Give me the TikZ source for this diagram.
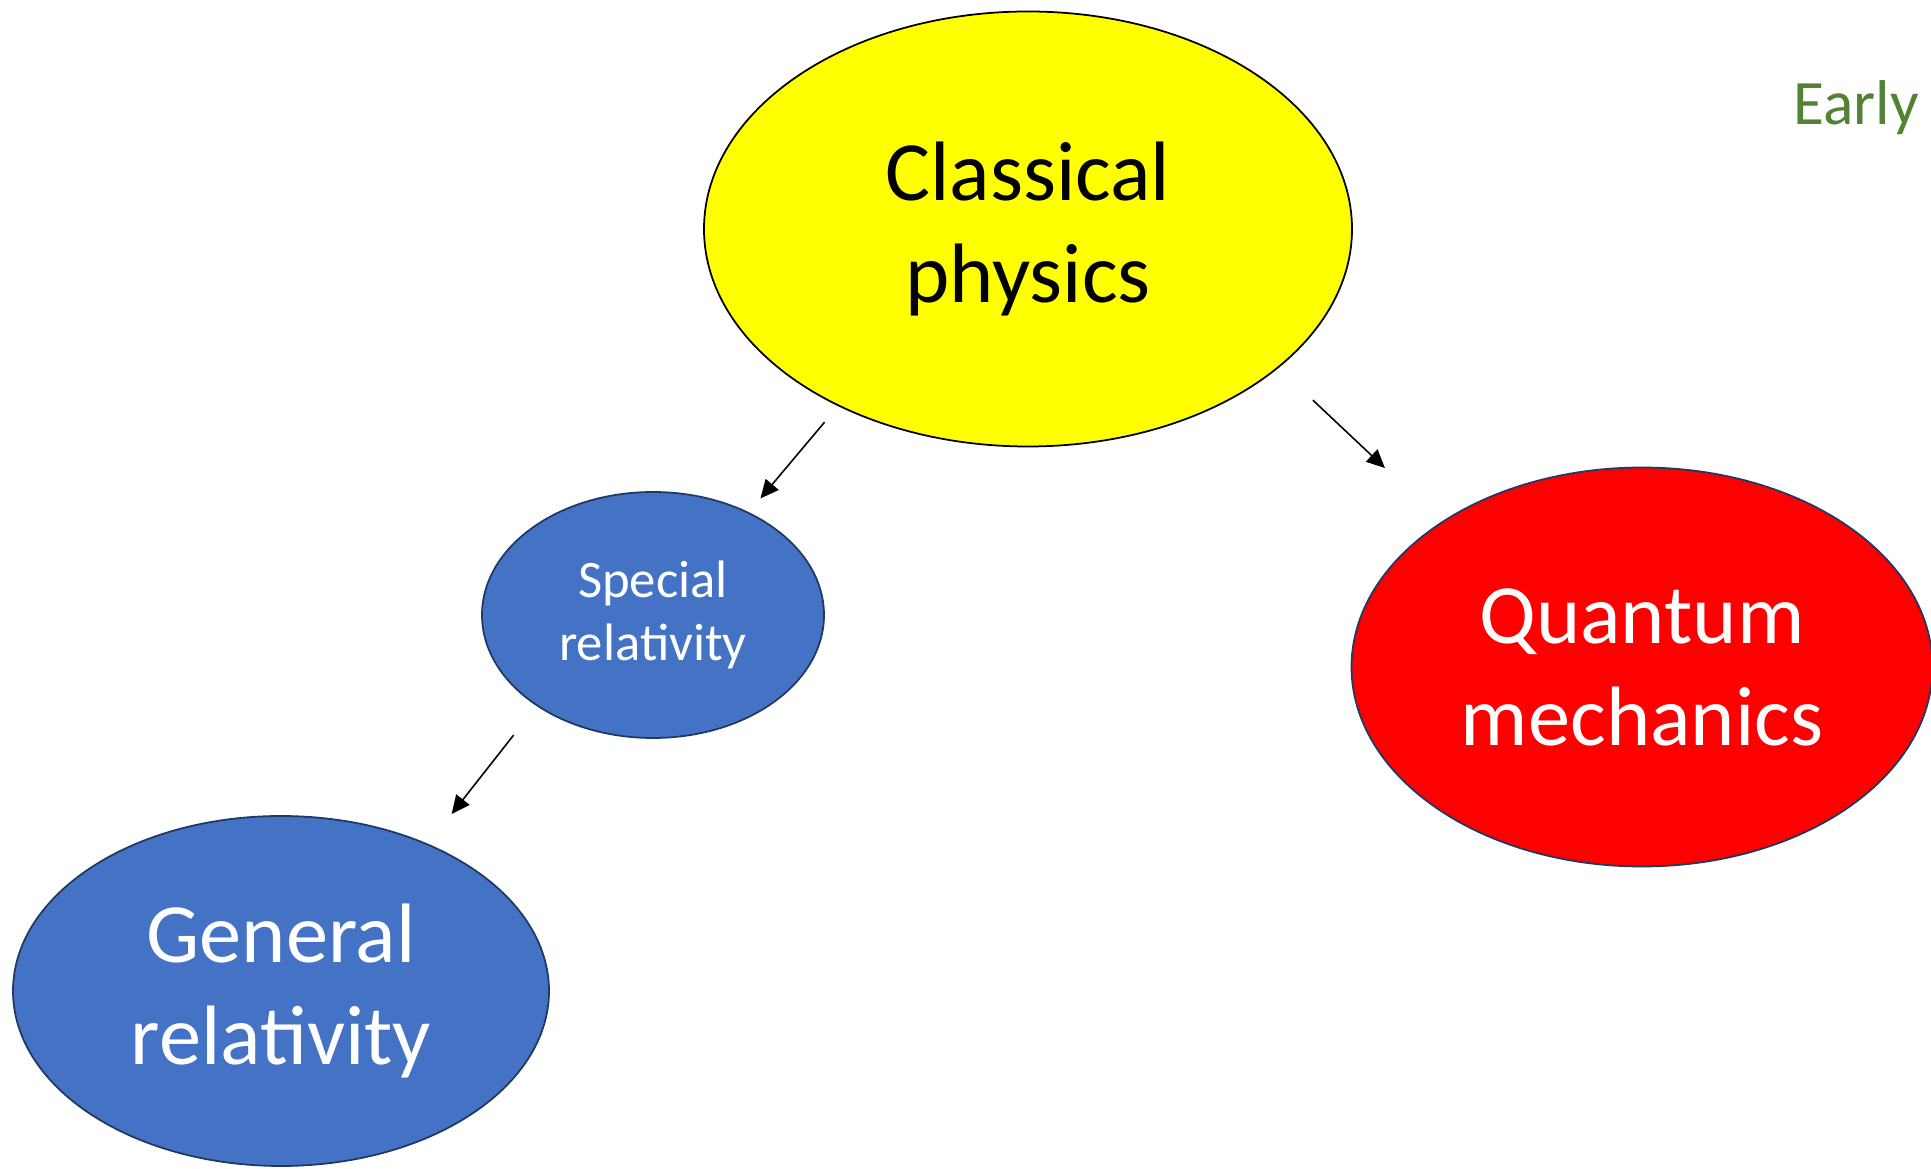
\documentclass[tikz,border=0pt]{standalone}
\usepackage{fontspec}
\setmainfont{Carlito}
\definecolor{sunyellow}{RGB}{255,255,0}
\definecolor{relblue}{RGB}{68,114,196}
\definecolor{quantred}{RGB}{255,0,0}
\definecolor{rimnavy}{RGB}{32,56,100}
\definecolor{earlygreen}{RGB}{84,130,53}
\usetikzlibrary{arrows.meta, shapes.geometric}
\tikzset{
  bubble/.style={ellipse, draw=rimnavy, line width=0.5pt, inner sep=0pt, align=center, text=white},
  bigtext/.style={font=\fontsize{24}{29}\selectfont},
  link/.style={-{Triangle[length=5.2pt, width=4.8pt]}, line width=0.45pt}
}

\begin{document}
\begin{tikzpicture}
  \useasboundingbox (0,0) rectangle (19.31,11.69);
  \node[bubble, bigtext, draw=black, fill=sunyellow, text=black, minimum width=6.48cm, minimum height=4.35cm] (classical) at (10.28,9.40) {Classical\\physics};
  \node[bubble, fill=relblue, minimum width=3.42cm, minimum height=2.46cm,
        font=\fontsize{15}{18}\selectfont] (special) at (6.53,5.54) {Special\\relativity};
  \node[bubble, bigtext, fill=relblue, minimum width=5.36cm, minimum height=3.50cm] (general) at (2.81,1.78) {General\\relativity};
  \node[bubble, bigtext, fill=quantred, minimum width=5.81cm, minimum height=3.99cm] (quantum) at (16.42,5.02) {Quantum\\mechanics};
  \node[anchor=base west, inner sep=0pt, text=earlygreen, font=\fontsize{18}{22}\selectfont] (early) at (17.93,10.44) {Early};
  % arrows stop short of the bubbles on both ends
  \draw[link, shorten <=0.21cm, shorten >=0.18cm] (classical.223.1) -- (special.47.3);
  \draw[link, shorten <=0.47cm, shorten >=0.78cm] (classical.331.7) -- (quantum.144.3);
  \draw[link, shorten <=0.37cm, shorten >=0.38cm] (special.218.6) -- (general.45.5);
\end{tikzpicture}
\end{document}
